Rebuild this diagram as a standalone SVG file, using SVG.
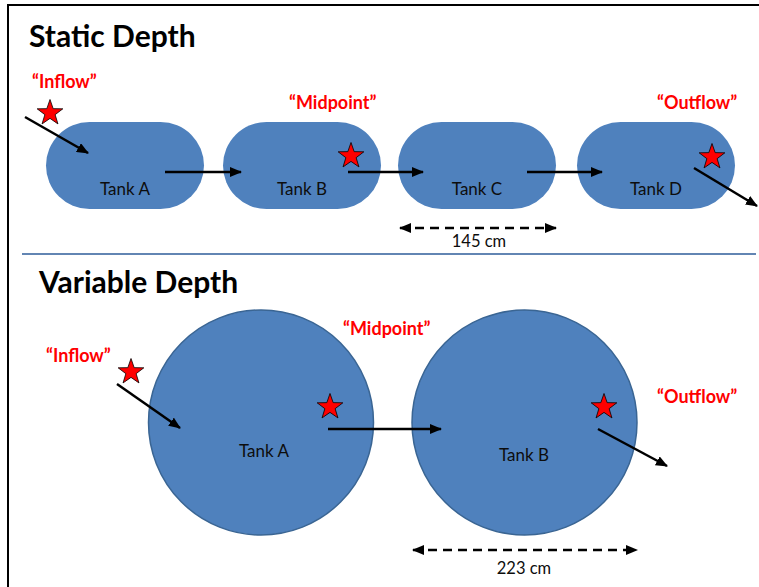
<svg xmlns="http://www.w3.org/2000/svg" width="759" height="587" viewBox="0 0 759 587">
  <style>
    .title { font-family: Lato, "Open Sans", "Liberation Sans", sans-serif; font-weight: bold; font-size: 30px; fill: #000; }
    .tank { fill: #4f81bd; }
    .round { fill: #4f81bd; stroke: #3a6593; stroke-width: 1.5; }
    .name { font-family: Lato, "Open Sans", "Liberation Sans", sans-serif; font-size: 17px; fill: #0d0d0d; text-anchor: middle; }
    .tag { font-family: Lato, "Open Sans", "Liberation Sans", sans-serif; font-size: 18px; font-weight: bold; fill: #ff0000; }
    .star { fill: #ff0000; stroke: #000; stroke-width: 0.8; }
    .flow { stroke: #000; stroke-width: 2.5; fill: none; marker-end: url(#head); }
    .span { stroke: #000; stroke-width: 2.5; fill: none; stroke-dasharray: 9 6; marker-start: url(#tail); marker-end: url(#head); }
    .dim { font-family: Lato, "Open Sans", "Liberation Sans", sans-serif; font-size: 16.5px; fill: #0d0d0d; text-anchor: middle; }
  </style>
  <defs>
    <marker id="head" markerUnits="userSpaceOnUse" markerWidth="12" markerHeight="10" refX="11" refY="5" orient="auto">
      <path d="M0,0 L12,5 L0,10 Z" fill="#000"/>
    </marker>
    <marker id="tail" markerUnits="userSpaceOnUse" markerWidth="12" markerHeight="10" refX="1" refY="5" orient="auto">
      <path d="M12,0 L0,5 L12,10 Z" fill="#000"/>
    </marker>
    <polygon id="starShape" class="star" points="0,-13.5 3.17,-4.37 12.84,-4.17 5.14,1.67 7.94,10.92 0,5.4 -7.94,10.92 -5.14,1.67 -12.84,-4.17 -3.17,-4.37"/>
  </defs>

  <rect width="759" height="587" fill="#fff"/>
  <!-- frame (runs off the right and bottom edges) -->
  <rect x="8" y="5" width="770" height="600" fill="none" stroke="#000" stroke-width="2"/>

  <!-- static depth section -->
  <text class="title" x="29" y="47">Static Depth</text>

  <g id="static-tank-a"><rect class="tank" x="46" y="122" width="158" height="87" rx="43.5"/><text class="name" x="125" y="195">Tank A</text></g>
  <g id="static-tank-b"><rect class="tank" x="223" y="122" width="158" height="87" rx="43.5"/><text class="name" x="302" y="195">Tank B</text></g>
  <g id="static-tank-c"><rect class="tank" x="398" y="122" width="158" height="87" rx="43.5"/><text class="name" x="477" y="195">Tank C</text></g>
  <g id="static-tank-d"><rect class="tank" x="577" y="122" width="158" height="87" rx="43.5"/><text class="name" x="656" y="195">Tank D</text></g>

  <g id="static-markers">
    <text class="tag" x="32" y="88">“Inflow”</text>
    <text class="tag" x="289" y="109">“Midpoint”</text>
    <text class="tag" x="657" y="109">“Outflow”</text>
    <use href="#starShape" x="50" y="113"/>
    <use href="#starShape" x="351" y="156"/>
    <use href="#starShape" x="712" y="157"/>
  </g>

  <g id="static-connectors">
    <line class="flow" x1="25" y1="117" x2="88" y2="153"/>
    <line class="flow" x1="165" y1="172" x2="241" y2="172"/>
    <line class="flow" x1="348" y1="172" x2="423" y2="172"/>
    <line class="flow" x1="527" y1="172" x2="602" y2="172"/>
    <line class="flow" x1="694" y1="168" x2="757" y2="206"/>
    <line class="span" x1="400" y1="228" x2="556" y2="228"/>
  </g>
  <text class="dim" x="479" y="247">145 cm</text>

  <!-- divider -->
  <line x1="22" y1="254" x2="756" y2="254" stroke="#2e5c9a" stroke-width="1.5"/>

  <!-- variable depth section -->
  <text class="title" x="39" y="293">Variable Depth</text>

  <g id="variable-tank-a"><circle class="round" cx="261" cy="422.5" r="112.5"/><text class="name" x="264" y="457">Tank A</text></g>
  <g id="variable-tank-b"><circle class="round" cx="524.5" cy="422.5" r="112.5"/><text class="name" x="524" y="461">Tank B</text></g>

  <g id="variable-markers">
    <text class="tag" x="46" y="362">“Inflow”</text>
    <text class="tag" x="343" y="335">“Midpoint”</text>
    <text class="tag" x="657" y="403">“Outflow”</text>
    <use href="#starShape" x="131" y="372"/>
    <use href="#starShape" x="330" y="407"/>
    <use href="#starShape" x="604" y="407"/>
  </g>

  <g id="variable-connectors">
    <line class="flow" x1="117" y1="384" x2="180" y2="428"/>
    <line class="flow" x1="328" y1="429" x2="441" y2="429"/>
    <line class="flow" x1="598" y1="429" x2="667" y2="466"/>
    <line class="span" x1="413" y1="550" x2="637" y2="550"/>
  </g>
  <text class="dim" x="524" y="574">223 cm</text>
</svg>
